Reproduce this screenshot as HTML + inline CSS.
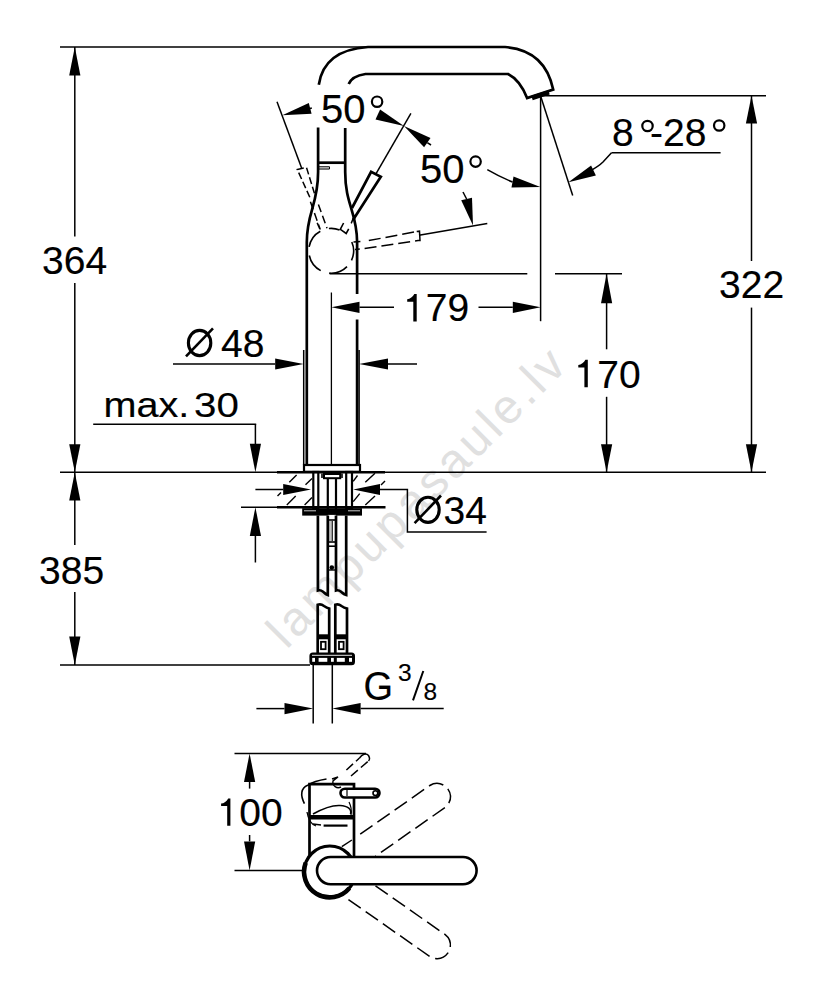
<!DOCTYPE html>
<html><head><meta charset="utf-8"><style>
html,body{margin:0;padding:0;background:#fff;}
svg{display:block;}
svg text{fill:#000;stroke:#000;stroke-width:0.15px;font-family:"Liberation Sans",sans-serif;}
svg text.wm{fill:#e0e0e0;stroke:none;}
svg .fill{fill:#000;stroke:none;}
</style></head><body>
<svg width="834" height="1000" viewBox="0 0 834 1000" fill="none" stroke="#000">
<text class="wm" x="0" y="0" font-size="48" letter-spacing="3.7" transform="translate(286.5,650) rotate(-45.05)">lampupasaule.lv</text>
<line x1="60" y1="47" x2="368" y2="47" stroke-width="1.5"/>
<line x1="74.8" y1="47" x2="74.8" y2="236.5" stroke-width="1.5"/>
<line x1="74.8" y1="283" x2="74.8" y2="472" stroke-width="1.5"/>
<polygon class="fill" points="74.8,47 69.2,75.6 80.4,75.6"/>
<polygon class="fill" points="74.8,472 80.4,444.2 69.2,444.2"/>
<text x="42" y="274" font-size="39">364</text>
<line x1="60" y1="472.3" x2="766" y2="472.3" stroke-width="1.5"/>
<line x1="74.8" y1="472" x2="74.8" y2="545" stroke-width="1.5"/>
<line x1="74.8" y1="592" x2="74.8" y2="665" stroke-width="1.5"/>
<polygon class="fill" points="74.8,472.3 69.2,500.5 80.4,500.5"/>
<polygon class="fill" points="74.8,665 80.4,636.5 69.2,636.5"/>
<text x="39" y="583.6" font-size="39">385</text>
<line x1="60" y1="665" x2="310" y2="665" stroke-width="1.5"/>
<line x1="541" y1="95.8" x2="766" y2="95.8" stroke-width="1.5"/>
<line x1="751.5" y1="95.8" x2="751.5" y2="261" stroke-width="1.5"/>
<line x1="751.5" y1="307.6" x2="751.5" y2="472" stroke-width="1.5"/>
<polygon class="fill" points="751.5,95.8 745.9,123.4 757.1,123.4"/>
<polygon class="fill" points="751.5,472.3 757.1,444.2 745.9,444.2"/>
<text x="719" y="298.3" font-size="39">322</text>
<line x1="329.6" y1="273.7" x2="527.3" y2="273.7" stroke-width="1.5"/>
<line x1="555" y1="273.7" x2="622" y2="273.7" stroke-width="1.5"/>
<line x1="606.6" y1="273.7" x2="606.6" y2="349.3" stroke-width="1.5"/>
<line x1="606.6" y1="396.8" x2="606.6" y2="472" stroke-width="1.5"/>
<polygon class="fill" points="606.6,273.7 601,303.2 612.2,303.2"/>
<polygon class="fill" points="606.6,472.3 612.2,444.2 601,444.2"/>
<path class="fill" d="M584.4,387.2 V367.4 H578.3 V365 C581.1,364.6 584,362.8 585.4,359.8 H587.8 V387.2 Z"/>
<text x="597.2" y="387.6" font-size="39">70</text>
<line x1="540.6" y1="95.8" x2="540.6" y2="321.2" stroke-width="1.5"/>
<line x1="540.6" y1="96" x2="572.7" y2="195.5" stroke-width="1.5"/>
<polygon class="fill" points="331.4,307.3 359.5,312.9 359.5,301.7"/>
<line x1="359.5" y1="307.3" x2="394" y2="307.3" stroke-width="1.5"/>
<line x1="478.5" y1="307.3" x2="512.8" y2="307.3" stroke-width="1.5"/>
<polygon class="fill" points="540.6,307.3 512.8,301.7 512.8,312.9"/>
<path class="fill" d="M413.3,321.5 V301.7 H407.2 V299.3 C410,298.9 412.9,297.1 414.3,294.1 H416.7 V321.5 Z"/>
<text x="425.7" y="321" font-size="39">79</text>
<text x="612" y="146.4" font-size="39">8</text>
<circle cx="647.5" cy="126" r="5.2" stroke-width="2.2"/>
<text x="650" y="146.4" font-size="39">-28</text>
<circle cx="719.2" cy="125.5" r="5.2" stroke-width="2.2"/>
<line x1="611.5" y1="152.8" x2="720.6" y2="152.8" stroke-width="1.5"/>
<path d="M611.5,152.8 L603,162 Q599,166 590,171" stroke-width="1.5"/>
<polygon class="fill" points="568.4,182.3 595.9,175.6 591.1,165.4"/>
<line x1="173" y1="364" x2="275.2" y2="364" stroke-width="1.5"/>
<polygon class="fill" points="303.6,364 275.2,358.4 275.2,369.6"/>
<polygon class="fill" points="359.1,364 388,369.6 388,358.4"/>
<line x1="388" y1="364" x2="417" y2="364" stroke-width="1.5"/>
<line x1="303.7" y1="350" x2="303.7" y2="465" stroke-width="1.5"/>
<line x1="359.1" y1="350" x2="359.1" y2="465" stroke-width="1.5"/>
<ellipse cx="199.6" cy="343" rx="11.2" ry="12.6" stroke-width="3.1"/>
<line x1="186" y1="356.3" x2="213" y2="328.3" stroke-width="2.6"/>
<text x="221" y="357" font-size="39">48</text>
<text x="0" y="0" font-size="36" transform="translate(103.5,417.1) scale(1.1,1)">max.</text>
<text x="0" y="0" font-size="36" transform="translate(194,417.1) scale(1.12,1)">30</text>
<line x1="93.2" y1="424.2" x2="256.2" y2="424.2" stroke-width="1.5"/>
<line x1="255.4" y1="424.2" x2="255.4" y2="444" stroke-width="1.5"/>
<polygon class="fill" points="255.4,472.3 261,443.7 249.8,443.7"/>
<line x1="241" y1="507.2" x2="385" y2="507.2" stroke-width="1.5"/>
<polygon class="fill" points="255.4,507.2 249.8,536 261,536"/>
<line x1="255.4" y1="536" x2="255.4" y2="562.5" stroke-width="1.5"/>
<line x1="255.4" y1="489.5" x2="283.2" y2="489.5" stroke-width="1.5"/>
<polygon class="fill" points="311,489.5 283.2,483.9 283.2,495.1"/>
<polygon class="fill" points="353.2,489.5 380,495.1 380,483.9"/>
<path d="M380,489.5 H407.4 V532 H486.6" stroke-width="1.5"/>
<ellipse cx="428" cy="509.8" rx="11.2" ry="12.6" stroke-width="3.1"/>
<line x1="414.6" y1="523.2" x2="441" y2="495.5" stroke-width="2.6"/>
<text x="443.5" y="523.8" font-size="39">34</text>
<line x1="313.2" y1="665" x2="313.2" y2="723.5" stroke-width="1.5"/>
<line x1="332.3" y1="665" x2="332.3" y2="723.5" stroke-width="1.5"/>
<line x1="256.4" y1="708.6" x2="284.5" y2="708.6" stroke-width="1.5"/>
<polygon class="fill" points="313.2,708.6 284.5,703 284.5,714.2"/>
<polygon class="fill" points="332.3,708.6 360.6,714.2 360.6,703"/>
<line x1="360.6" y1="708.6" x2="443.7" y2="708.6" stroke-width="1.5"/>
<text x="0" y="0" font-size="38" transform="translate(363.5,700) scale(1,1.09)">G</text>
<text x="398" y="681.3" font-size="24.5">3</text>
<line x1="413" y1="700.3" x2="423.3" y2="671" stroke-width="2"/>
<text x="423.5" y="700.3" font-size="24.5">8</text>
<path d="M318.8,84.7 Q324,50 368,47 L505,47 Q545,50 553.2,89.6 L527.1,98 Q520,80 508,74 L365.5,74 Q352,76 348.7,84" stroke-width="2.7"/>
<line x1="532" y1="98" x2="549" y2="92.3" stroke-width="4.5"/>
<path d="M318.1,127.4 V172 C318.1,205 306.8,212 306.8,242 V465" stroke-width="2.7"/>
<path d="M345.2,128 V172 C345.2,205 357.1,212 357.1,242 V294" stroke-width="2.7"/>
<line x1="357.1" y1="319.5" x2="357.1" y2="465" stroke-width="2.7"/>
<line x1="318.1" y1="162.7" x2="345.2" y2="162.7" stroke-width="2.7"/>
<line x1="319" y1="166.8" x2="329.5" y2="166.8" stroke-width="1.1"/>
<line x1="319" y1="169" x2="329.5" y2="169" stroke-width="1.1"/>
<line x1="329.5" y1="166.8" x2="329.5" y2="169" stroke-width="1"/>
<line x1="331.4" y1="292.5" x2="331.4" y2="465" stroke-width="1.3"/>
<rect x="304" y="465" width="56" height="6.8" stroke-width="2.2"/>
<path d="M309.1,246.9 A22.4,22.4 0 0 1 320.3,231.2" stroke-width="1.6"/>
<path d="M328.9,228.5 A22.4,22.4 0 0 1 339.6,230" stroke-width="1.6"/>
<path d="M351.8,242 A22.4,22.4 0 0 1 351.5,260.3" stroke-width="1.6"/>
<path d="M347,266.6 A22.4,22.4 0 0 1 329.2,273.1" stroke-width="1.6"/>
<path d="M320.7,270.6 A22.4,22.4 0 0 1 309.3,255.5" stroke-width="1.6"/>
<path d="M343.6,223 L340.3,229.3 L346.2,233.5 L348.7,228.8" stroke-width="1.6"/>
<line x1="351.2" y1="223.4" x2="354.6" y2="215" stroke-width="1.5"/>
<line x1="353.5" y1="242" x2="360.4" y2="241.5" stroke-width="1.5"/>
<line x1="355" y1="249.4" x2="359.8" y2="249" stroke-width="1.5"/>
<path d="M352,208 L371.1,171.9 L380.8,176.8 L353.3,219.6" stroke-width="2.7"/>
<line x1="375.8" y1="174.1" x2="410.9" y2="113.4" stroke-width="1.5"/>
<path d="M309.8,197.2 L297.3,169.5 L306.5,167.5 L314.4,193.3" stroke-width="1.5" stroke-dasharray="7 3"/>
<path d="M310.4,201.8 L320.3,229.5 M318.4,204.5 L327,228.2 M317.2,222.9 L319.7,228.8" stroke-width="1.5" stroke-dasharray="8 4"/>
<line x1="277" y1="101.7" x2="301.6" y2="168" stroke-width="1.5"/>
<path d="M368.8,240.6 L416.7,231.6 M364.6,248.4 L418,240.6" stroke-width="1.5" stroke-dasharray="12 5"/>
<path d="M416.7,231.6 L419.5,231.2 L420,240.5 L418,240.6" stroke-width="1.5"/>
<line x1="419" y1="235.3" x2="487.3" y2="223.6" stroke-width="1.5"/>
<polygon class="fill" points="282.3,115.3 311.6,113.7 308.8,102.9"/>
<line x1="310" y1="108.5" x2="311.8" y2="108" stroke-width="1.5"/>
<polygon class="fill" points="404,126 380.1,109.4 375.5,119.6"/>
<polygon class="fill" points="404,126 424.1,147.2 430.5,138"/>
<line x1="427.3" y1="142.6" x2="431" y2="145" stroke-width="1.5"/>
<polygon class="fill" points="473,225.4 472,197.7 461.2,200.3"/>
<line x1="466.6" y1="199" x2="463" y2="192" stroke-width="1.5"/>
<path d="M487.3,169.7 Q498,176 512.5,182" stroke-width="1.5"/>
<polygon class="fill" points="540.4,187.1 513.5,176.5 511.5,187.5"/>
<text x="321" y="122.7" font-size="40">50</text>
<circle cx="377.1" cy="101.7" r="5.2" stroke-width="2.2"/>
<text x="420" y="183.2" font-size="40">50</text>
<circle cx="475.6" cy="161.6" r="5.2" stroke-width="2.2"/>
<line x1="277" y1="472.3" x2="385" y2="472.3" stroke-width="2.5"/>
<line x1="277" y1="507.2" x2="385.5" y2="507.2" stroke-width="2.5"/>
<line x1="289.3" y1="482.2" x2="296.6" y2="474.9" stroke-width="1.4"/>
<line x1="305.5" y1="484.7" x2="312" y2="478.5" stroke-width="1.4"/>
<line x1="286.8" y1="504.9" x2="295.7" y2="496" stroke-width="1.4"/>
<line x1="304.6" y1="504.9" x2="312" y2="497.5" stroke-width="1.4"/>
<line x1="353.2" y1="481.4" x2="357.5" y2="475.5" stroke-width="1.4"/>
<line x1="365.3" y1="482.2" x2="375" y2="473.3" stroke-width="1.4"/>
<line x1="353.2" y1="501.6" x2="359.7" y2="493.6" stroke-width="1.4"/>
<line x1="365.3" y1="504.9" x2="375" y2="496" stroke-width="1.4"/>
<line x1="277.5" y1="496" x2="281" y2="492.5" stroke-width="1.4"/>
<line x1="381" y1="485" x2="385" y2="481" stroke-width="1.4"/>
<rect x="313.3" y="472" width="5" height="37" stroke-width="2.2"/>
<rect x="346.2" y="472" width="5.8" height="37" stroke-width="2.2"/>
<rect x="324" y="474" width="16.2" height="4.2" stroke-width="2"/>
<line x1="327.8" y1="478" x2="327.8" y2="515" stroke-width="2.2"/>
<line x1="336" y1="478" x2="336" y2="515" stroke-width="2.2"/>
<line x1="322" y1="473.5" x2="322" y2="478" stroke-width="1.6"/>
<line x1="342" y1="473.5" x2="342" y2="478" stroke-width="1.6"/>
<rect x="302.2" y="508.2" width="59.8" height="7.4" class="fill"/>
<line x1="304" y1="510.8" x2="316" y2="510.8" stroke-width="0.8" stroke="#fff"/>
<line x1="348" y1="510.8" x2="360" y2="510.8" stroke-width="0.8" stroke="#fff"/>
<rect x="327.8" y="514.9" width="8.2" height="4.3" fill="#fff" stroke="none"/>
<line x1="327.8" y1="520" x2="336" y2="520" stroke-width="1.6"/>
<line x1="327.8" y1="542" x2="336" y2="542" stroke-width="1.6"/>
<line x1="327.8" y1="546.2" x2="336" y2="546.2" stroke-width="1.6"/>
<line x1="330" y1="521" x2="330" y2="541" stroke-width="0.9" stroke="#777"/>
<line x1="332.2" y1="521" x2="332.2" y2="541" stroke-width="1.2"/>
<circle cx="331.8" cy="567.6" r="2.3" class="fill"/>
<line x1="327.8" y1="570" x2="336" y2="570" stroke-width="1.4"/>
<path d="M317.9,515.6 V590.5 C321,589.5 322,591 324,592.5 C325,593.5 326.5,594.5 327.8,595 V515.6" stroke-width="2.7"/>
<path d="M336,515.6 V590.5 C339,589.5 340,591 342,592.5 C343,593.5 344.5,594.5 346.2,595 V515.6" stroke-width="2.7"/>
<path d="M317.7,653 V604.8 C320.5,603.8 322,604.5 324,606 C325.5,607 327,608 329.2,608.5 V653" stroke-width="2.7"/>
<path d="M335.3,653 V604.8 C338,603.8 339.5,604.5 341.5,606 C343,607 345,608 347,608.5 V653" stroke-width="2.7"/>
<rect x="317" y="634.3" width="13" height="5" class="fill"/>
<rect x="334.5" y="634.3" width="13.2" height="5" class="fill"/>
<rect x="321" y="641.8" width="4.6" height="7.4" stroke-width="1.8"/>
<rect x="339" y="641.8" width="4.6" height="7.4" stroke-width="1.8"/>
<rect x="309.4" y="652.6" width="45.6" height="12.6" rx="3.5" class="fill"/>
<line x1="312" y1="655.3" x2="352" y2="655.3" stroke-width="0.9" stroke="#fff"/>
<rect x="312.2" y="657.9" width="2.8" height="3.9" fill="#fff" stroke="none"/>
<rect x="318.6" y="657.9" width="8.7" height="3.9" fill="#fff" stroke="none"/>
<rect x="331" y="657.9" width="2.8" height="3.9" fill="#fff" stroke="none"/>
<rect x="336.8" y="657.9" width="8" height="3.9" fill="#fff" stroke="none"/>
<rect x="349" y="657.9" width="3" height="3.9" fill="#fff" stroke="none"/>
<line x1="234.5" y1="753.4" x2="366" y2="753.4" stroke-width="1.5"/>
<line x1="234.5" y1="870.6" x2="303.6" y2="870.6" stroke-width="1.5"/>
<line x1="249.6" y1="782" x2="249.6" y2="788.6" stroke-width="1.5"/>
<line x1="249.6" y1="835" x2="249.6" y2="841.4" stroke-width="1.5"/>
<polygon class="fill" points="249.6,753.4 244,782 255.2,782"/>
<polygon class="fill" points="249.6,870.6 255.2,841.4 244,841.4"/>
<path class="fill" d="M227.2,825.8 V806 H221.1 V803.6 C223.9,803.2 226.8,801.4 228.2,798.4 H230.4 V825.8 Z"/>
<text x="239.2" y="826" font-size="39">00</text>
<path d="M309.5,855 V784.2 H354 V857" stroke-width="2.7"/>
<rect x="309" y="815" width="45.5" height="4.5" class="fill"/>
<rect x="340.5" y="788.7" width="39" height="8.8" rx="4.4" fill="#fff" stroke-width="2.6"/>
<circle cx="375.4" cy="793.1" r="2.4" stroke-width="1.6"/>
<line x1="347" y1="790" x2="347" y2="796" stroke-width="1.2"/>
<path d="M304.4,803.6 C300,795 301,788 307.7,785.3 C314,781 320,780 326.5,779" stroke-width="1.6"/>
<path d="M313,814 C322,809 332,805 340,805.5 C348,806 352,809 350.5,814" stroke-width="1.6"/>
<path d="M349,802 C351,806 352,810 351,815" stroke-width="1.2"/>
<path d="M332,779 L338,777 L333,781 C332,786 337,789 341,787" stroke-width="1.4"/>
<path d="M307,812 C308,818 310,824 316,826" stroke-width="1.3"/>
<line x1="323.6" y1="825.6" x2="347.5" y2="825.6" stroke-width="2.2"/>
<line x1="313" y1="824" x2="321" y2="825" stroke-width="1.4"/>
<path d="M346.4,770 L359.5,758 M351,776 L368.5,761" stroke-width="1.5" stroke-dasharray="9 4"/>
<path d="M359.5,758 C362,754.5 366,752.5 368.5,755.5 C370,758 369.5,760 368.5,761" stroke-width="1.5"/>
<path d="M360.2,834.2 L429.8,785.5 A13.4,13.4 0 0 1 445.2,807.4 L375.5,856.2" stroke-width="1.5" stroke-dasharray="15 6"/>
<path d="M375.5,885.8 L445.2,934.6 A13.4,13.4 0 0 1 429.8,956.5 L345,897.2" stroke-width="1.5" stroke-dasharray="15 6"/>
<line x1="341.8" y1="846.7" x2="351.9" y2="840" stroke-width="1.4"/>
<circle cx="329.8" cy="871.6" r="25.6" stroke-width="3.2" fill="#fff"/>
<path d="M349.4,888.1 A25.6,25.6 0 0 1 305.7,862.8" stroke-width="4.6"/>
<rect x="317" y="857" width="159.6" height="27.2" rx="13.6" fill="#fff" stroke-width="2.6"/>
</svg>
</body></html>
